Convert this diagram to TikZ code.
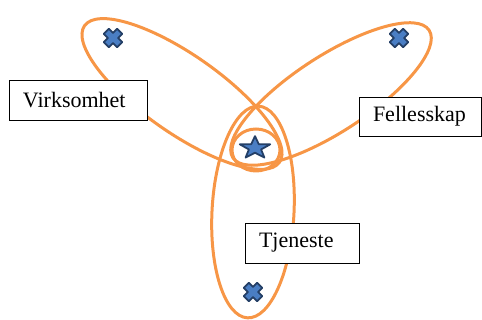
\documentclass[tikz,border=0pt]{standalone}
\usepackage{fontspec}
\setmainfont{Liberation Serif}
\usetikzlibrary{shapes.geometric}
\definecolor{ring}{HTML}{F79646}
\definecolor{markline}{HTML}{243F66}
\definecolor{markfill}{HTML}{4A7EC4}
\tikzset{
  ringline/.style={draw=ring, line width=3pt},
  labelbox/.style={draw=black, line width=0.8pt, fill=white, minimum height=40pt,
    inner xsep=14pt, inner ysep=0pt, align=left, font=\fontsize{22}{24}\selectfont},
  xmark/.pic={
    \filldraw[draw=markline, fill=markfill, line width=1.8pt, line join=round, rotate=45]
      (9.5,3.6) -- (3.6,3.6) -- (3.6,9.5) -- (-3.6,9.5) -- (-3.6,3.6) -- (-9.5,3.6) --
      (-9.5,-3.6) -- (-3.6,-3.6) -- (-3.6,-9.5) -- (3.6,-9.5) -- (3.6,-3.6) -- (9.5,-3.6) -- cycle;
  }
}
\begin{document}
\begin{tikzpicture}[x=1pt,y=1pt]
\useasboundingbox (0,0) rectangle (482,320);
% rings
\draw[ringline, rotate around={-35:(182,226)}] (182,226) ellipse [x radius=119, y radius=39];
\draw[ringline, rotate around={33:(331,226)}] (331,226) ellipse [x radius=117, y radius=38];
\draw[ringline, rotate around={-3:(253,108)}] (253,108) ellipse [x radius=41, y radius=106];
\draw[ringline] (256,170) ellipse [x radius=24, y radius=21];
% label boxes
\node[labelbox, text width=110pt] (virk) at (78,220) {Virksomhet};
\node[labelbox, text width=94pt, minimum height=39pt] (fell) at (420,203.5) {Fellesskap};
\node[labelbox, text width=86pt] (tjen) at (302,77) {Tjeneste};
% marks
\pic (m1) at (113,282) {xmark};
\pic (m2) at (399,282) {xmark};
\pic (m3) at (253,28) {xmark};
\begin{scope}[shift={(255,172)}, yscale=0.74]
\filldraw[draw=markline, fill=markfill, line width=1.8pt, line join=round]
  (90:16) -- (126:6.4) -- (162:16) -- (198:6.4) -- (234:16) -- (270:6.4) --
  (306:16) -- (342:6.4) -- (18:16) -- (54:6.4) -- cycle;
\end{scope}
\end{tikzpicture}
\end{document}
